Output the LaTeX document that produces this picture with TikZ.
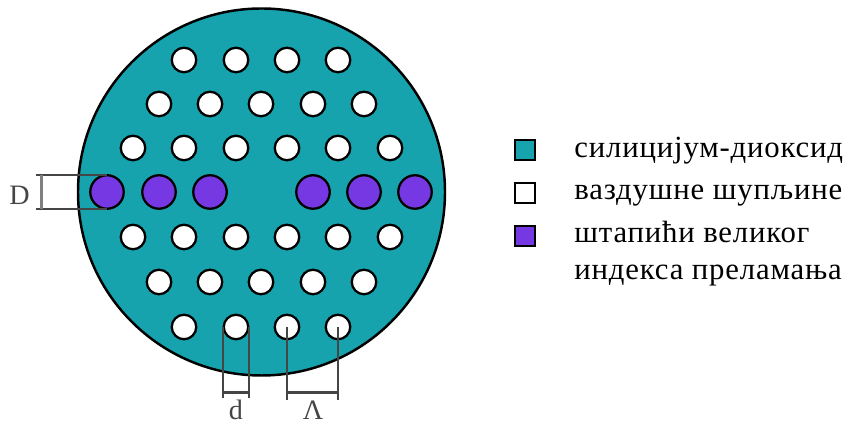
\documentclass[tikz,border=0pt]{standalone}
\usepackage{fontspec}
\setmainfont{Liberation Serif}
\newfontfamily\legendfont[LetterSpace=2.7]{Liberation Serif}
\usetikzlibrary{positioning}
\definecolor{silica}{HTML}{17A3AE}
\definecolor{rod}{HTML}{7538E2}
\definecolor{dimgray}{HTML}{454545}
\tikzset{
    hole/.style={circle, draw=black, fill=white, line width=1.3pt, inner sep=0pt, minimum size=0.49cm},
    bigrod/.style={circle, draw=black, fill=rod, line width=1.3pt, inner sep=0pt, minimum size=0.67cm},
    swatch/.style={rectangle, draw=black, line width=0.8pt, inner sep=0pt, minimum size=0.4cm},
    legendtext/.style={anchor=base west, inner sep=0pt, font=\legendfont\fontsize{17.5}{20}\selectfont},
    dimline/.style={draw=dimgray, line width=1.2pt},
    dimtext/.style={text=dimgray, inner sep=0pt, font=\fontsize{16}{18}\selectfont}
}
\begin{document}
\begin{tikzpicture}
    \useasboundingbox (0, 0) rectangle (16.92, 8.5);

    \node[circle, draw=black, fill=silica, line width=1.4pt, inner sep=0pt, minimum size=7.34cm](fiber) at (5.23, 4.66){};

    % rows of holes
    \foreach \x [count=\i] in {3.68, 4.72, 5.74, 6.76}{
        \node[hole](a\i) at (\x, 7.30){};
        \node[hole](f\i) at (\x, 1.96){};
    }
    \foreach \x [count=\i] in {3.18, 4.20, 5.22, 6.26, 7.28}{
        \node[hole](b\i) at (\x, 6.42){};
        \node[hole](e\i) at (\x, 2.86){};
    }
    \foreach \x [count=\i] in {2.66, 3.68, 4.72, 5.74, 6.76, 7.80}{
        \node[hole](c\i) at (\x, 5.54){};
        \node[hole](d\i) at (\x, 3.76){};
    }

    % rods
    \foreach \x [count=\i] in {2.14, 3.18, 4.20, 6.26, 7.28, 8.30}{
        \node[bigrod](r\i) at (\x, 4.66){};
    }

    % D
    \coordinate (Dtop) at (0.72, 5.0);
    \coordinate (Dbot) at (0.72, 4.32);
    \coordinate (Dvtop) at (0.83, 5.0);
    \coordinate (Dvbot) at (0.83, 4.32);
    \draw[dimline](Dtop)--(Dtop -| r1.north);
    \draw[dimline](Dbot)--(Dbot -| r1.south);
    \draw[dimline, draw=gray](Dvtop)--(Dvbot);
    \node[dimtext](Dlabel) at (0.39, 4.60){D};

    % d
    \coordinate (dend) at (4.72, 0.53);
    \coordinate (dbar) at (4.72, 0.65);
    \draw[dimline](f2.west)--(f2.west |- dend);
    \draw[dimline](f2.east)--(f2.east |- dend);
    \draw[dimline](f2.west |- dbar)--(f2.east |- dbar);
    \node[dimtext](dlabel) at (4.72, 0.30){d};

    % Lambda
    \coordinate (Lend) at (6.26, 0.50);
    \coordinate (Lbar) at (6.26, 0.65);
    \draw[dimline](f3.center)--(f3.center |- Lend);
    \draw[dimline](f4.center)--(f4.center |- Lend);
    \draw[dimline](f3.center |- Lbar)--(f4.center |- Lbar);
    \node[dimtext](Llabel) at (6.26, 0.29){Λ};

    % legend
    \node[swatch, fill=silica](s1) at (10.50, 5.50){};
    \node[swatch, fill=white](s2) at (10.50, 4.64){};
    \node[swatch, fill=rod](s3) at (10.50, 3.78){};
    \node[legendtext](t1) at (11.48, 5.34){силицијум-диоксид};
    \node[legendtext](t2) at (11.48, 4.50){ваздушне шупљине};
    \node[legendtext](t3) at (11.48, 3.64){штапићи великог};
    \node[legendtext](t4) at (11.48, 2.90){индекса преламања};
\end{tikzpicture}
\end{document}
